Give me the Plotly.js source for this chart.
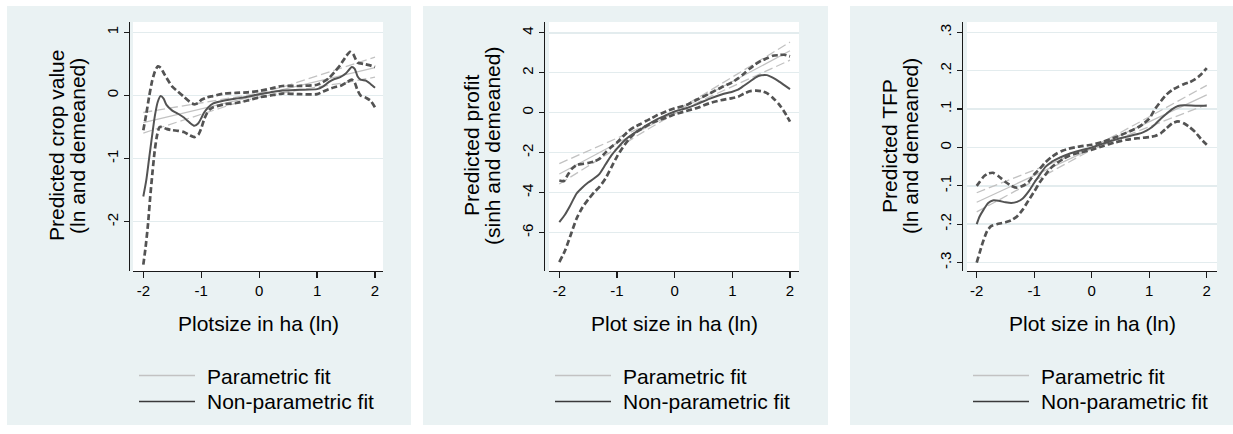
<!DOCTYPE html>
<html>
<head>
<meta charset="utf-8">
<script src="https://cdn.plot.ly/plotly-3.0.1.min.js"></script>
<style>html,body{margin:0;padding:0;background:#fff;}#chart{width:1233px;height:434px;}</style>
</head>
<body>
<div id="chart"></div>
<script>
// ---------- data ----------
const xTickVals = [-2, -1, 0, 1, 2];
const xTickText = ['-2', '-1', '0', '1', '2'];

const xTitles = ['Plotsize in ha (ln)', 'Plot size in ha (ln)', 'Plot size in ha (ln)'];
const yTitleLine1 = ['Predicted crop value', 'Predicted profit', 'Predicted TFP'];
const yTitleLine2 = ['(ln and demeaned)', '(sinh and demeaned)', '(ln and demeaned)'];
const legendLabels = ['Parametric fit', 'Non-parametric fit'];

const cropYTicks = [-2, -1, 0, 1];
const cropYTickText = ['-2', '-1', '0', '1'];
const profitYTicks = [-6, -4, -2, 0, 2, 4];
const profitYTickText = ['-6', '-4', '-2', '0', '2', '4'];
const tfpYTicks = [-0.3, -0.2, -0.1, 0, 0.1, 0.2, 0.3];
const tfpYTickText = ['-.3', '-.2', '-.1', '0', '.1', '.2', '.3'];

// parametric (linear) fits with confidence bands
const parX = [-2, -1.5, -1, -0.5, 0, 0.5, 1, 1.5, 2];
const cropParFit = [-0.43, -0.32, -0.21, -0.10, 0.005, 0.11, 0.22, 0.33, 0.44];
const cropParHi  = [-0.27, -0.195, -0.125, -0.05, 0.035, 0.16, 0.305, 0.455, 0.605];
const cropParLo  = [-0.595, -0.445, -0.295, -0.15, -0.025, 0.06, 0.135, 0.205, 0.29];
const profitParFit = [-3.07, -2.30, -1.53, -0.76, 0.01, 0.78, 1.55, 2.33, 3.10];
const profitParHi  = [-2.55, -1.93, -1.28, -0.63, 0.07, 0.91, 1.79, 2.67, 3.53];
const profitParLo  = [-3.57, -2.66, -1.78, -0.89, -0.05, 0.65, 1.31, 1.98, 2.63];
const tfpParFit = [-0.143, -0.108, -0.073, -0.038, -0.003, 0.032, 0.067, 0.102, 0.137];
const tfpParHi  = [-0.118, -0.089, -0.060, -0.031, 0.000, 0.039, 0.080, 0.121, 0.162];
const tfpParLo  = [-0.168, -0.127, -0.086, -0.045, -0.006, 0.025, 0.054, 0.083, 0.112];

// non-parametric fits (crop value)
const cropNpX = [-2, -1.95, -1.9, -1.85, -1.8, -1.75, -1.7, -1.65, -1.6, -1.5, -1.4, -1.3, -1.2, -1.12, -1.05, -1.0, -0.95, -0.88, -0.8, -0.6, -0.4, -0.2, 0, 0.2, 0.4, 0.7, 1.0, 1.1, 1.2, 1.3, 1.4, 1.5, 1.6, 1.65, 1.7, 1.75, 1.85, 1.95, 2.0];
const cropNpFit = [-1.60, -1.35, -1.00, -0.65, -0.32, -0.10, -0.01, -0.05, -0.15, -0.24, -0.29, -0.35, -0.43, -0.48, -0.44, -0.36, -0.27, -0.19, -0.13, -0.08, -0.05, -0.02, 0.02, 0.05, 0.08, 0.09, 0.10, 0.14, 0.21, 0.26, 0.29, 0.35, 0.45, 0.42, 0.30, 0.25, 0.23, 0.16, 0.12];
const cropNpHiX = [-2, -1.95, -1.9, -1.85, -1.8, -1.75, -1.7, -1.65, -1.6, -1.5, -1.4, -1.3, -1.2, -1.12, -1.05, -1.0, -0.9, -0.8, -0.6, -0.4, -0.2, 0, 0.2, 0.4, 0.7, 1.0, 1.1, 1.2, 1.3, 1.4, 1.5, 1.57, 1.62, 1.7, 1.8, 1.9, 2.0];
const cropNpHi = [-0.55, -0.30, -0.02, 0.22, 0.38, 0.46, 0.44, 0.36, 0.28, 0.14, 0.06, -0.02, -0.10, -0.14, -0.12, -0.07, -0.03, -0.01, 0.03, 0.04, 0.05, 0.07, 0.11, 0.15, 0.15, 0.17, 0.21, 0.27, 0.37, 0.48, 0.62, 0.69, 0.66, 0.52, 0.50, 0.48, 0.45];
const cropNpLoX = [-2, -1.96, -1.92, -1.88, -1.84, -1.8, -1.76, -1.72, -1.68, -1.6, -1.5, -1.4, -1.3, -1.2, -1.12, -1.05, -1.0, -0.95, -0.9, -0.85, -0.8, -0.6, -0.4, -0.2, 0, 0.2, 0.4, 0.7, 1.0, 1.1, 1.2, 1.3, 1.4, 1.5, 1.6, 1.65, 1.7, 1.75, 1.85, 1.92, 2.0];
const cropNpLo = [-2.68, -2.40, -2.05, -1.60, -1.20, -0.85, -0.62, -0.50, -0.50, -0.53, -0.55, -0.56, -0.58, -0.63, -0.66, -0.62, -0.52, -0.38, -0.28, -0.22, -0.19, -0.14, -0.12, -0.08, -0.03, 0.00, 0.03, 0.02, 0.02, 0.06, 0.10, 0.13, 0.15, 0.20, 0.25, 0.20, 0.08, 0.00, -0.04, -0.08, -0.19];

// non-parametric fits (profit)
const profitNpX = [-2, -1.9, -1.82, -1.7, -1.6, -1.5, -1.4, -1.3, -1.2, -1.1, -1.0, -0.9, -0.8, -0.7, -0.6, -0.5, -0.4, -0.3, -0.2, -0.1, 0, 0.2, 0.4, 0.6, 0.8, 1.0, 1.1, 1.2, 1.3, 1.4, 1.5, 1.6, 1.7, 1.8, 1.9, 2.0];
const profitNpFit = [-5.48, -5.1, -4.7, -4.05, -3.75, -3.5, -3.3, -3.05, -2.6, -2.15, -1.8, -1.48, -1.22, -1.02, -0.85, -0.66, -0.48, -0.32, -0.2, -0.06, 0.06, 0.22, 0.44, 0.69, 0.9, 1.05, 1.15, 1.35, 1.55, 1.76, 1.87, 1.88, 1.75, 1.58, 1.38, 1.18];
const profitNpHiX = [-2, -1.92, -1.85, -1.78, -1.7, -1.6, -1.5, -1.4, -1.3, -1.2, -1.1, -1.0, -0.9, -0.8, -0.7, -0.6, -0.5, -0.4, -0.3, -0.2, -0.1, 0, 0.2, 0.4, 0.6, 0.8, 1.0, 1.1, 1.2, 1.3, 1.4, 1.5, 1.6, 1.7, 1.8, 1.9, 2.0];
const profitNpHi = [-3.4, -3.42, -3.1, -2.8, -2.62, -2.57, -2.52, -2.45, -2.3, -2.0, -1.72, -1.5, -1.2, -0.92, -0.72, -0.58, -0.42, -0.28, -0.12, 0.0, 0.12, 0.22, 0.38, 0.67, 0.95, 1.25, 1.52, 1.72, 1.95, 2.2, 2.42, 2.6, 2.72, 2.85, 2.88, 2.9, 2.82];
const profitNpLoX = [-2, -1.9, -1.8, -1.7, -1.6, -1.5, -1.4, -1.3, -1.2, -1.1, -1.0, -0.9, -0.8, -0.7, -0.6, -0.5, -0.4, -0.3, -0.2, -0.1, 0, 0.2, 0.4, 0.6, 0.8, 1.0, 1.1, 1.2, 1.3, 1.4, 1.5, 1.6, 1.7, 1.8, 1.9, 2.0];
const profitNpLo = [-7.48, -6.9, -6.1, -5.3, -4.75, -4.35, -4.0, -3.7, -3.3, -2.75, -2.2, -1.75, -1.35, -1.05, -0.85, -0.68, -0.52, -0.4, -0.3, -0.2, -0.08, 0.08, 0.25, 0.47, 0.62, 0.73, 0.8, 0.95, 1.07, 1.1, 1.08, 0.98, 0.75, 0.45, 0.05, -0.45];

// non-parametric fits (TFP)
const tfpNpX = [-2, -1.95, -1.88, -1.8, -1.72, -1.62, -1.5, -1.4, -1.3, -1.2, -1.1, -1.0, -0.9, -0.8, -0.7, -0.6, -0.5, -0.4, -0.2, 0, 0.2, 0.4, 0.6, 0.8, 0.9, 1.0, 1.1, 1.2, 1.3, 1.4, 1.5, 1.6, 1.8, 2.0];
const tfpNpFit = [-0.20, -0.18, -0.162, -0.145, -0.138, -0.139, -0.143, -0.145, -0.142, -0.133, -0.115, -0.092, -0.07, -0.05, -0.038, -0.03, -0.023, -0.017, -0.008, 0.0, 0.01, 0.02, 0.028, 0.035, 0.04, 0.048, 0.06, 0.075, 0.088, 0.1, 0.108, 0.11, 0.109, 0.109];
const tfpNpHiX = [-2, -1.95, -1.88, -1.8, -1.72, -1.62, -1.5, -1.4, -1.3, -1.2, -1.1, -1.0, -0.9, -0.8, -0.7, -0.6, -0.5, -0.4, -0.2, 0, 0.2, 0.4, 0.6, 0.8, 0.9, 1.0, 1.1, 1.2, 1.3, 1.4, 1.5, 1.6, 1.7, 1.8, 1.9, 2.0];
const tfpNpHi = [-0.10, -0.09, -0.076, -0.068, -0.066, -0.075, -0.09, -0.1, -0.105, -0.1, -0.09, -0.07, -0.055, -0.038, -0.025, -0.015, -0.008, -0.003, 0.003, 0.007, 0.015, 0.026, 0.038, 0.052, 0.062, 0.075, 0.1, 0.12, 0.138, 0.15, 0.158, 0.165, 0.17, 0.178, 0.19, 0.207];
const tfpNpLoX = [-2, -1.95, -1.9, -1.82, -1.75, -1.65, -1.5, -1.4, -1.3, -1.2, -1.1, -1.0, -0.9, -0.8, -0.7, -0.6, -0.5, -0.4, -0.2, 0, 0.2, 0.4, 0.6, 0.8, 1.0, 1.1, 1.2, 1.3, 1.4, 1.5, 1.6, 1.7, 1.8, 1.9, 2.0];
const tfpNpLo = [-0.30, -0.275, -0.25, -0.218, -0.205, -0.2, -0.195, -0.19, -0.18, -0.162, -0.138, -0.115, -0.09, -0.07, -0.052, -0.04, -0.03, -0.022, -0.013, -0.006, 0.004, 0.013, 0.02, 0.024, 0.027, 0.03, 0.037, 0.05, 0.063, 0.068, 0.063, 0.053, 0.04, 0.022, 0.007];

// ---------- layout geometry (pixels) ----------
const W = 1233, H = 434;
const FONT = 'Liberation Sans, Arial, Helvetica, sans-serif';
const PANEL_BG = '#eaf2f3';
const GRID = '#e3ecee';
const AXIS = '#1a1a1a';
const PAR_COL = '#c2c2c2';
const NP_COL = '#535353';

const panels = [
  {bx0: 7,   bx1: 411,  px0: 133, px1: 383,  yAxisX: 129, xr: [-2.178, 2.138], yr: [-2.78, 1.163],
   yt: cropYTicks, ytt: cropYTickText,
   par: [cropParFit, cropParHi, cropParLo],
   np: [[cropNpX, cropNpFit], [cropNpHiX, cropNpHi], [cropNpLoX, cropNpLo]]},
  {bx0: 423, bx1: 828,  px0: 549, px1: 799,  yAxisX: 544, xr: [-2.179, 2.156], yr: [-7.93, 4.54],
   yt: profitYTicks, ytt: profitYTickText,
   par: [profitParFit, profitParHi, profitParLo],
   np: [[profitNpX, profitNpFit], [profitNpHiX, profitNpHi], [profitNpLoX, profitNpLo]]},
  {bx0: 850, bx1: 1240, px0: 967, px1: 1217, yAxisX: 962, xr: [-2.169, 2.178], yr: [-0.322, 0.327],
   yt: tfpYTicks, ytt: tfpYTickText,
   par: [tfpParFit, tfpParHi, tfpParLo],
   np: [[tfpNpX, tfpNpFit], [tfpNpHiX, tfpNpHi], [tfpNpLoX, tfpNpLo]]}
];
const PY0 = 22, PY1 = 271, BY0 = 6, BY1 = 425;

const fx = p => p / W;
const fy = p => 1 - p / H;

const traces = [];
const layout = {
  width: W, height: H,
  margin: {l: 0, r: 0, t: 0, b: 0, pad: 0},
  paper_bgcolor: '#ffffff',
  plot_bgcolor: 'rgba(0,0,0,0)',
  showlegend: false,
  font: {family: FONT, color: '#000'},
  shapes: [],
  annotations: []
};

panels.forEach((p, i) => {
  const n = i === 0 ? '' : String(i + 1);
  const xa = 'x' + n, ya = 'y' + n;

  // parametric fit: CI (dashed) + fit (solid), light gray
  traces.push({x: parX, y: p.par[1], xaxis: xa, yaxis: ya, mode: 'lines', hoverinfo: 'skip',
    line: {color: PAR_COL, width: 1.3, dash: '9px,4px'}});
  traces.push({x: parX, y: p.par[2], xaxis: xa, yaxis: ya, mode: 'lines', hoverinfo: 'skip',
    line: {color: PAR_COL, width: 1.3, dash: '9px,4px'}});
  traces.push({x: parX, y: p.par[0], xaxis: xa, yaxis: ya, mode: 'lines', name: legendLabels[0],
    line: {color: PAR_COL, width: 1.2}});
  // non-parametric fit: CI (dashed) + fit (solid), dark gray
  traces.push({x: p.np[1][0], y: p.np[1][1], xaxis: xa, yaxis: ya, mode: 'lines', hoverinfo: 'skip',
    line: {color: NP_COL, width: 2.7, dash: '6px,3px', shape: 'spline', smoothing: 0.6}});
  traces.push({x: p.np[2][0], y: p.np[2][1], xaxis: xa, yaxis: ya, mode: 'lines', hoverinfo: 'skip',
    line: {color: NP_COL, width: 2.7, dash: '6px,3px', shape: 'spline', smoothing: 0.6}});
  traces.push({x: p.np[0][0], y: p.np[0][1], xaxis: xa, yaxis: ya, mode: 'lines', name: legendLabels[1],
    line: {color: NP_COL, width: 2, shape: 'spline', smoothing: 0.6}});

  layout['xaxis' + n] = {
    domain: [fx(p.px0), fx(p.px1)], anchor: ya, range: p.xr, automargin: false,
    showline: true, linecolor: AXIS, linewidth: 1.4, mirror: false,
    ticks: 'outside', ticklen: 6, tickwidth: 1.2, tickcolor: AXIS,
    tickvals: xTickVals, ticktext: xTickText, tickfont: {family: FONT, size: 15, color: '#000'},
    showgrid: false, zeroline: false, fixedrange: true
  };
  layout['yaxis' + n] = {
    domain: [fy(PY1), fy(PY0)], anchor: 'free', position: fx(p.yAxisX), range: p.yr, automargin: false,
    showline: true, linecolor: AXIS, linewidth: 1.4, mirror: false,
    ticks: 'outside', ticklen: 5, tickwidth: 1.2, tickcolor: AXIS,
    tickvals: p.yt, ticktext: p.ytt, tickangle: -90, tickfont: {family: FONT, size: 15, color: '#000'},
    showgrid: true, gridcolor: GRID, gridwidth: 1.5, zeroline: false, fixedrange: true
  };

  // panel background and white plot region
  layout.shapes.push({type: 'rect', xref: 'paper', yref: 'paper', layer: 'below',
    x0: fx(p.bx0), x1: fx(p.bx1), y0: fy(BY1), y1: fy(BY0), line: {width: 0}, fillcolor: PANEL_BG});
  layout.shapes.push({type: 'rect', xref: 'paper', yref: 'paper', layer: 'below',
    x0: fx(p.px0), x1: fx(p.px1), y0: fy(PY1), y1: fy(PY0), line: {width: 0}, fillcolor: '#ffffff'});

  // axis titles
  const cx = (p.px0 + p.px1) / 2;
  layout.annotations.push({xref: 'paper', yref: 'paper', x: fx(cx), y: fy(323), xanchor: 'center', yanchor: 'middle',
    text: xTitles[i], showarrow: false, font: {family: FONT, size: 21, color: '#000'}});
  layout.annotations.push({xref: 'paper', yref: 'paper', x: fx(p.yAxisX - 73), y: fy(146), xanchor: 'center', yanchor: 'middle',
    text: yTitleLine1[i], textangle: -90, showarrow: false, font: {family: FONT, size: 21, color: '#000'}});
  layout.annotations.push({xref: 'paper', yref: 'paper', x: fx(p.yAxisX - 52), y: fy(146), xanchor: 'center', yanchor: 'middle',
    text: yTitleLine2[i], textangle: -90, showarrow: false, font: {family: FONT, size: 21, color: '#000'}});

  // legend (keys + labels)
  const lx0 = p.px0 + 6, lx1 = p.px0 + 62, tx = p.px0 + 72;
  layout.shapes.push({type: 'line', xref: 'paper', yref: 'paper', layer: 'above',
    x0: fx(lx0), x1: fx(lx1), y0: fy(375.5), y1: fy(375.5), line: {color: PAR_COL, width: 1.3}});
  layout.shapes.push({type: 'line', xref: 'paper', yref: 'paper', layer: 'above',
    x0: fx(lx0), x1: fx(lx1), y0: fy(401.5), y1: fy(401.5), line: {color: '#3a3a3a', width: 1.6}});
  layout.annotations.push({xref: 'paper', yref: 'paper', x: fx(tx), y: fy(376), xanchor: 'left', yanchor: 'middle',
    text: legendLabels[0], showarrow: false, font: {family: FONT, size: 21, color: '#000'}});
  layout.annotations.push({xref: 'paper', yref: 'paper', x: fx(tx), y: fy(401), xanchor: 'left', yanchor: 'middle',
    text: legendLabels[1], showarrow: false, font: {family: FONT, size: 21, color: '#000'}});
});

Plotly.newPlot('chart', traces, layout, {staticPlot: true, displayModeBar: false});
</script>
</body>
</html>
